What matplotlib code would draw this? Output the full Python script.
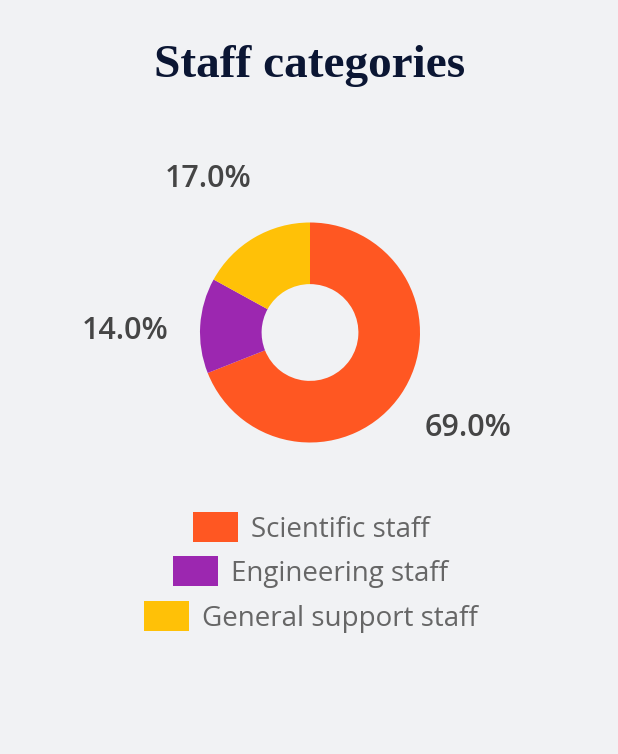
import numpy as np
import matplotlib.pyplot as plt
from matplotlib.patches import Patch

# Data
categories = ["Scientific staff", "Engineering staff", "General support staff"]
shares = [69.0, 14.0, 17.0]
colors = ["#FF5722", "#9C27B0", "#FFC107"]

bg = "#F1F2F4"
W, H = 618, 754

fig = plt.figure(figsize=(W / 100, H / 100), dpi=100, facecolor=bg)

# Donut axes: 440px square centred on the ring
cx, cy, box = 310, 332.5, 440
ax = fig.add_axes([(cx - box / 2) / W, (H - cy - box / 2) / H, box / W, box / H])
ax.set_facecolor(bg)
wedges, _ = ax.pie(
    shares, colors=colors, startangle=90, counterclock=False, radius=1,
    wedgeprops=dict(width=0.56, linewidth=0),
)

# percentage labels outside the ring
for w, v in zip(wedges, shares):
    ang = np.deg2rad((w.theta1 + w.theta2) / 2 + 3)
    ax.text(1.68 * np.cos(ang), 1.68 * np.sin(ang), f"{v:.1f}%",
            ha="center", va="center", fontsize=22, fontweight="semibold",
            color="#454545", family="Open Sans")

ax.set_xlim(-2, 2)
ax.set_ylim(-2, 2)
ax.set_aspect("equal")
ax.axis("off")

# Title
fig.text(cx / W, 1 - 66 / H, "Staff categories", ha="center", va="center",
         fontsize=34, fontweight="bold", color="#0B1633", family="Liberation Serif")

# Legend: one centred row per category
row_y = [528, 572, 617]
for cat, col, y in zip(categories, colors, row_y):
    leg = fig.legend(handles=[Patch(facecolor=col, edgecolor="none", label=cat)],
                     loc="center", bbox_to_anchor=(311 / W, 1 - y / H),
                     frameon=False, handlelength=1.62, handleheight=1.25,
                     handletextpad=0.47, borderpad=0, borderaxespad=0,
                     prop=dict(family="Open Sans", size=20))
    for t in leg.get_texts():
        t.set_color("#666666")

fig.savefig("out.png", dpi=100, facecolor=bg)
